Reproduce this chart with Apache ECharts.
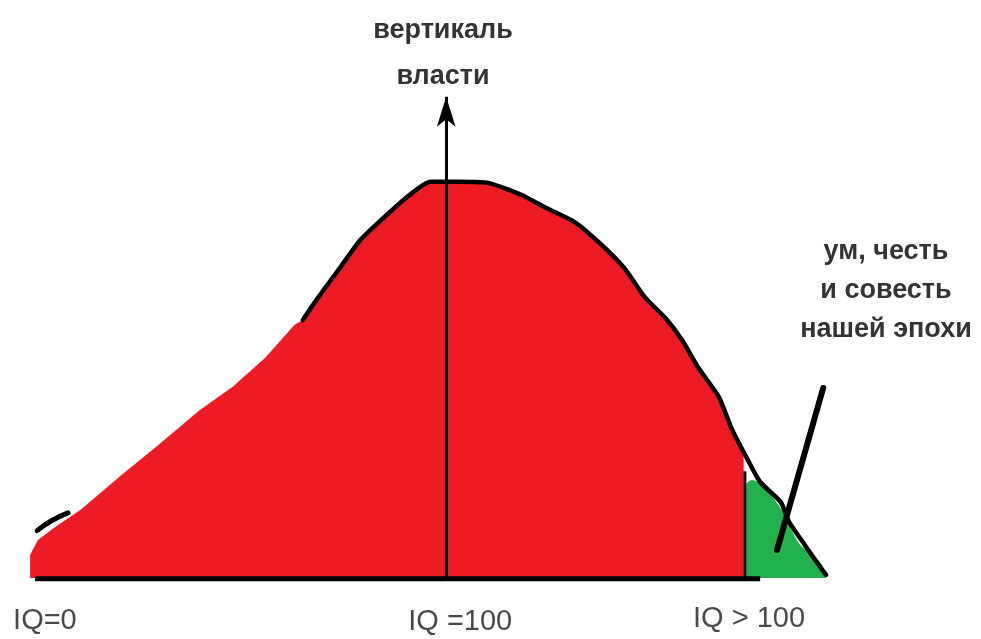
<!DOCTYPE html>
<html lang="ru" style="height: 100%">
<head>
    <meta charset="UTF-8">
    <title>вертикаль власти</title>
</head>
<body style="height: 100%; margin: 0; background: #fff">
<div id="container" style="width: 981px; height: 639px"></div>
<script src="https://cdn.jsdelivr.net/npm/echarts@6/dist/echarts.min.js"></script>
<script>
    // x = IQ, y = "власть" (условные единицы)
    var redArea = [
        [-1.2, 0], [-1.2, 5.8], [0.7, 9.6], [4.9, 12.9], [11, 17.2], [21, 26.1], [30, 33.7],
        [40, 42.5], [48, 48.4], [56, 55.9], [63, 64.1], [65, 65.3], [69, 71.4], [74, 78.5],
        [79, 85.6], [84, 90.6], [90, 96.2], [96, 100.3], [103, 100.3], [110, 100], [118, 97],
        [124, 93.7], [131, 90.1], [137, 84.8], [143, 78.5], [148, 71.1], [153, 65.8], [157, 60.3],
        [161, 53.2], [166, 45.8], [169, 38], [172, 31.9], [172, 0]
    ];
    var outline = [
        [65, 65.3], [69, 71.4], [74, 78.5], [79, 85.6], [84, 90.6], [90, 96.2], [96, 100.3],
        [103, 100.3], [110, 100], [118, 97], [124, 93.7], [131, 90.1], [137, 84.8], [143, 78.5],
        [148, 71.1], [153, 65.8], [157, 60.3], [161, 53.2], [166, 45.8], [169, 38], [173, 29.9],
        [176, 24.3], [181, 19.2], [183, 14.2], [186, 9.6], [189, 5.1], [192, 0.8]
    ];
    var leftStroke = [[0.5, 12], [4, 14.5], [8, 16.5]];
    var greenArea = [
        [172.6, 0], [172.6, 23.5], [174, 24.8], [176.5, 23.5], [179.6, 19.7], [182, 15.9],
        [183.3, 12.7], [185.7, 8.4], [188.6, 5.8], [191, 3.3], [192, 0]
    ];
    var greenEdge = [[172.3, 0], [172.3, 27]];
    var baseline = [[0, -0.2], [176, -0.2]];
    var pointer = [[191.3, 48.1], [180.1, 7.1]];
    var powerArrow = [[99.8, 0], [99.8, 121.8]];

    var tickValues = [2.4, 103.2, 173.3];
    var tickLevels = [-10.9, -11.1, -10.4];
    var tickLabels = ['IQ=0', 'IQ =100', 'IQ > 100'];

    var topText = ['вертикаль', 'власти'];
    var sideText = ['ум, честь', 'и совесть', 'нашей эпохи'];

    var chart = echarts.init(document.getElementById('container'), null, {renderer: 'canvas'});

    var labelSeries = tickValues.map(function (v, i) { return [v, tickLevels[i], tickLabels[i]]; });

    var option = {
        backgroundColor: '#ffffff',
        animation: false,
        grid: {left: 0, right: 0, top: 0, bottom: 61, containLabel: false},
        xAxis: {
            type: 'value', min: -8.5, max: 229.6,
            axisLine: {show: false}, axisTick: {show: false},
            axisLabel: {show: false}, splitLine: {show: false}
        },
        yAxis: {
            type: 'value', min: 0, max: 146.3,
            axisLine: {show: false}, axisTick: {show: false},
            axisLabel: {show: false}, splitLine: {show: false}
        },
        series: [
            {
                type: 'line', data: redArea, symbol: 'none', smooth: false,
                lineStyle: {width: 0}, areaStyle: {color: '#ed1c24', opacity: 1}, z: 2
            },
            {
                type: 'line', data: greenArea, symbol: 'none', smooth: 0.3,
                lineStyle: {width: 0}, areaStyle: {color: '#22b14c', opacity: 1}, z: 2
            },
            {
                type: 'line', data: greenEdge, symbol: 'none',
                lineStyle: {color: '#111', width: 3}, z: 3
            },
            {
                type: 'line', data: outline, symbol: 'none', smooth: 0.2,
                lineStyle: {color: '#000', width: 4.5, cap: 'round', join: 'round'}, z: 3
            },
            {
                type: 'line', data: leftStroke, symbol: 'none', smooth: true,
                lineStyle: {color: '#000', width: 5, cap: 'round'}, z: 1
            },
            {
                type: 'line', data: baseline, symbol: 'none', clip: false,
                lineStyle: {color: '#000', width: 5}, z: 3
            },
            {
                type: 'line', data: pointer, symbol: 'none',
                lineStyle: {color: '#000', width: 6, cap: 'round'}, z: 4
            },
            {
                type: 'line', data: [], symbol: 'none',
                markLine: {
                    silent: true, symbol: ['none', 'arrow'], symbolSize: [14, 30],
                    label: {show: false},
                    lineStyle: {color: '#000', width: 3, type: 'solid'},
                    data: [[{coord: powerArrow[0]}, {coord: powerArrow[1]}]]
                },
                z: 5
            },
            {
                type: 'scatter', data: labelSeries, symbolSize: 2, clip: false,
                itemStyle: {color: 'rgba(255,255,255,0)'},
                label: {
                    show: true, position: 'inside',
                    formatter: function (p) { return p.data[2]; },
                    color: '#1a1a1a', fontSize: 29, fontFamily: 'Liberation Sans'
                },
                z: 6
            }
        ],
        graphic: [
            {
                type: 'text', z: 10,
                x: 443, y: 8,
                style: {
                    text: topText.join('\n'), textAlign: 'center',
                    font: 'bold 27px "Liberation Sans"', lineHeight: 46, fill: '#333'
                }
            },
            {
                type: 'text', z: 10,
                x: 886, y: 232,
                style: {
                    text: sideText.join('\n'), textAlign: 'center',
                    font: 'bold 27px "Liberation Sans"', lineHeight: 39, fill: '#333'
                }
            }
        ]
    };
    chart.setOption(option);
</script>
</body>
</html>
